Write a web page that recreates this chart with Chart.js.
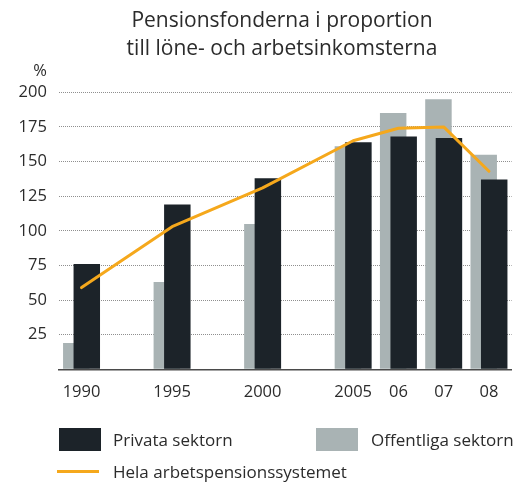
<!DOCTYPE html>
<html>
<head>
<meta charset="utf-8">
<script src="https://cdn.jsdelivr.net/npm/chart.js@4.4.1/dist/chart.umd.min.js"></script>
<style>
  html, body { margin: 0; padding: 0; background: #ffffff; }
  #wrap { position: relative; width: 531px; height: 488px; overflow: hidden;
          font-family: "Open Sans", sans-serif; color: #2b2b2b; }
  #c { position: absolute; left: 0; top: 0; }
  .title { position: absolute; left: 0; top: 5px; width: 564px; text-align: center;
           font-size: 21px; line-height: 28px; }
  .unit { position: absolute; left: 0; top: 59px; width: 47px; text-align: right;
          font-size: 16.5px; line-height: 22px; }
  .lg { position: absolute; font-size: 17px; line-height: 24px; white-space: nowrap; }
  .sw { position: absolute; }
</style>
</head>
<body>
<div id="wrap">
  <canvas id="c" width="531" height="488"></canvas>
  <div class="title">Pensionsfonderna i proportion<br>till löne- och arbetsinkomsterna</div>
  <div class="unit">%</div>
  <div id="legend"></div>
</div>
<script>
// ---- data ----
const categories = ['1990', '', '1995', '', '2000', '', '2005', '06', '07', '08'];
const privata    = [76, null, 119, null, 138, null, 164, 168, 167, 137];
const offentliga = [19, null, 63, null, 105, null, 161, 185, 195, 155];
const hela       = [59, null, 103, null, 131, null, 165, 174, 175, 143];
const yMin = 0, yMax = 200, yStep = 25;

const seriesNames = ['Privata sektorn', 'Offentliga sektorn', 'Hela arbetspensionssystemet'];
const colDark = '#1c2329', colGray = '#a9b3b4', colLine = '#f5a81c';

const tickFont = { family: 'Open Sans', size: 16.5 };

// draw the public-sector bars first so the private-sector bars sit on top
const drawOrder = {
  id: 'drawOrder',
  beforeDatasetsDraw(chart) {
    const m = chart.getDatasetMeta(0);
    if (chart.isDatasetVisible(0)) m.controller.draw();
  },
  beforeDatasetDraw(chart, args) {
    if (args.index === 0) return false;
  }
};

const chart = new Chart(document.getElementById('c'), {
  data: {
    labels: categories,
    datasets: [
      { type: 'bar', label: seriesNames[1], data: offentliga, backgroundColor: colGray,
        order: 1, categoryPercentage: 0.464, barPercentage: 2.52 },
      { type: 'bar', label: seriesNames[0], data: privata, backgroundColor: colDark,
        order: 2, categoryPercentage: 0.464, barPercentage: 2.52 },
      { type: 'line', label: seriesNames[2], data: hela, borderColor: colLine,
        borderWidth: 3, pointRadius: 0, spanGaps: true, tension: 0, order: 0,
        borderJoinStyle: 'round', borderCapStyle: 'round', fill: false }
    ]
  },
  options: {
    responsive: false, animation: false, devicePixelRatio: 1,
    layout: { padding: { left: 0, right: 19.4, top: 92.3, bottom: 0 } },
    plugins: { legend: { display: false }, tooltip: { enabled: false }, title: { display: false } },
    scales: {
      x: {
        type: 'category', offset: true,
        grid: { display: false, drawTicks: false },
        border: { display: true, color: '#4a4a4a', width: 1.5 },
        ticks: { padding: 13, color: '#2b2b2b', font: tickFont, autoSkip: false, maxRotation: 0 },
        afterFit(s) { s.height = 118.7; }
      },
      y: {
        min: yMin, max: yMax,
        ticks: { stepSize: yStep, padding: 12, color: '#2b2b2b', font: tickFont,
                 callback: v => (v === 0 ? '' : v) },
        grid: { color: c => (c.tick && c.tick.value === 0 ? 'rgba(0,0,0,0)' : '#8f8f8f'),
                lineWidth: 1, drawTicks: false },
        border: { display: false, dash: [1, 1] },
        afterFit(s) { s.width = 58.9; }
      }
    }
  },
  plugins: [drawOrder]
});

// ---- HTML legend built from the chart datasets ----
const lg = document.getElementById('legend');
const items = [
  { ds: 1, kind: 'box', sx: 59, sy: 428, tx: 113, ty: 427.5 },
  { ds: 0, kind: 'box', sx: 316, sy: 428, tx: 371, ty: 427.5 },
  { ds: 2, kind: 'line', sx: 57, sy: 470, tx: 113, ty: 460 }
];
items.forEach(it => {
  const d = chart.data.datasets[it.ds];
  const sw = document.createElement('div');
  sw.className = 'sw';
  sw.style.left = it.sx + 'px';
  sw.style.top = it.sy + 'px';
  if (it.kind === 'box') {
    sw.style.width = '42px'; sw.style.height = '23px'; sw.style.background = d.backgroundColor;
  } else {
    sw.style.width = '42px'; sw.style.height = '3px'; sw.style.background = d.borderColor;
  }
  lg.appendChild(sw);
  const t = document.createElement('div');
  t.className = 'lg';
  t.style.left = it.tx + 'px';
  t.style.top = it.ty + 'px';
  t.textContent = d.label;
  lg.appendChild(t);
});
</script>
</body>
</html>
